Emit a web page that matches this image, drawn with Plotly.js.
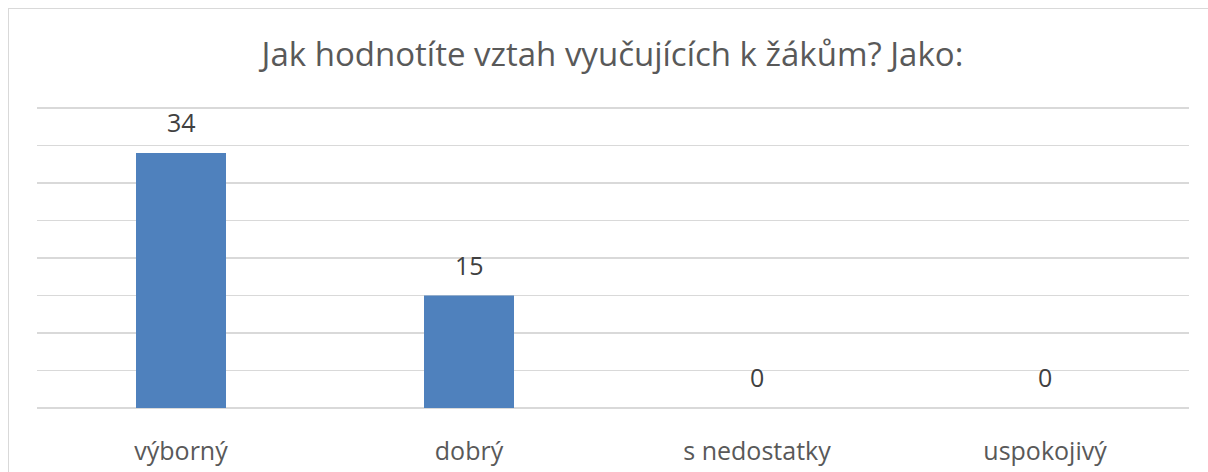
<!DOCTYPE html>
<html>
<head>
<meta charset="utf-8">
<script src="https://cdn.plot.ly/plotly-3.0.1.min.js"></script>
<style>
html,body{margin:0;padding:0;background:#fff;overflow:hidden;}
#frame{position:absolute;left:8px;top:8px;width:1210px;height:470px;border:1.5px solid #d9d9d9;box-sizing:border-box;}
#chart{position:absolute;left:0;top:0;width:1208px;height:472px;}
</style>
</head>
<body>
<div id="frame"></div>
<div id="chart"></div>
<script>
const categories = ["výborný", "dobrý", "s nedostatky", "uspokojivý"];
const values = [34, 15, 0, 0];
const titleText = "Jak hodnotíte vztah vyučujících k žákům? Jako:";

const fontFam = "Open Sans, Noto Sans, sans-serif";

const labels = categories.map((c, i) => ({
  x: c, y: values[i], xref: "x", yref: "y",
  text: String(values[i]), showarrow: false,
  yanchor: "bottom", yshift: 12,
  font: {family: fontFam, size: 25, color: "#404040"}
}));

Plotly.newPlot("chart", [{
  type: "bar",
  x: categories,
  y: values,
  marker: {color: "#4f81bd"},
  hoverinfo: "none"
}], {
  width: 1208, height: 472,
  margin: {l: 37, r: 19, t: 105, b: 64},
  paper_bgcolor: "rgba(0,0,0,0)",
  plot_bgcolor: "rgba(0,0,0,0)",
  bargap: 0.6875,
  title: {text: titleText, font: {family: fontFam, size: 33, color: "#595959"}, x: 0.507, xanchor: "center", y: 0.885, yanchor: "middle"},
  xaxis: {tickfont: {family: fontFam, size: 25, color: "#595959"}, showline: false, ticks: "", ticklen: 0, ticklabelstandoff: 26, automargin: false},
  yaxis: {range: [0, 40.4], tickvals: [0,5,10,15,20,25,30,35,40], showticklabels: false, gridcolor: "#d9d9d9", gridwidth: 1.5, zeroline: true, zerolinecolor: "#d9d9d9", zerolinewidth: 1.5, fixedrange: true},
  annotations: labels,
  showlegend: false
}, {displayModeBar: false, staticPlot: true});
</script>
</body>
</html>
